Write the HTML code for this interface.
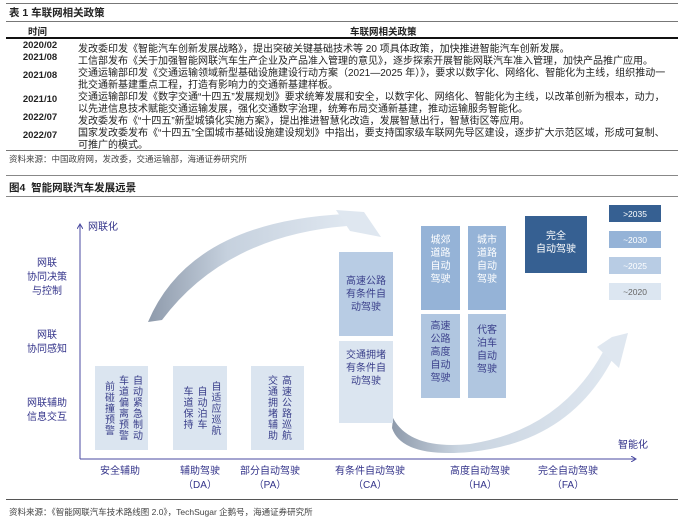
<!DOCTYPE html>
<html><head><meta charset="utf-8"><style>
*{margin:0;padding:0;box-sizing:border-box}
body{width:684px;height:519px;background:#fff;position:relative;overflow:hidden;font-family:"Liberation Sans","Noto Sans CJK SC",sans-serif;color:#222}
.a{position:absolute;white-space:nowrap}
.t{font-size:10px;left:78px}
.d{font-size:9.5px;font-weight:bold;left:14px;width:52px;text-align:center}
.hl{position:absolute;left:6px;width:672px}
.lab{color:#33338a;font-size:10px;text-align:center;line-height:14px}
.box{position:absolute;display:flex;align-items:center;justify-content:center;color:#3a3f8a;font-size:10px;line-height:13px;text-align:center}
.v{writing-mode:vertical-rl;letter-spacing:1px;line-height:14px}
.leg{position:absolute;left:609px;width:52px;height:17px;color:#fff;font-size:8.5px;display:flex;align-items:center;justify-content:center}
</style></head><body>
<div class="hl" style="top:3px;border-top:1px solid #777"></div>
<div class="a" style="left:9px;top:5px;font-size:10.5px;font-weight:bold">表 1 车联网相关政策</div>
<div class="hl" style="top:21px;border-top:1px solid #777"></div>
<div class="a" style="left:28px;top:24px;font-size:9.5px;font-weight:bold">时间</div>
<div class="a" style="left:350px;top:24px;font-size:9.5px;font-weight:bold">车联网相关政策</div>
<div class="hl" style="top:37px;border-top:2px solid #111"></div>
<div class="a d" style="top:40px">2020/02</div><div class="a t" style="top:40px">发改委印发《智能汽车创新发展战略》，提出突破关键基础技术等 20 项具体政策，加快推进智能汽车创新发展。</div>
<div class="a d" style="top:52px">2021/08</div><div class="a t" style="top:52px">工信部发布《关于加强智能网联汽车生产企业及产品准入管理的意见》，逐步探索开展智能网联汽车准入管理，加快产品推广应用。</div>
<div class="a d" style="top:70px">2021/08</div><div class="a t" style="top:64px">交通运输部印发《交通运输领域新型基础设施建设行动方案（2021—2025 年）》，要求以数字化、网络化、智能化为主线，组织推动一</div><div class="a t" style="top:76px">批交通新基建重点工程，打造有影响力的交通新基建样板。</div>
<div class="a d" style="top:94px">2021/10</div><div class="a t" style="top:88px">交通运输部印发《数字交通“十四五”发展规划》要求统筹发展和安全，以数字化、网络化、智能化为主线，以改革创新为根本，动力，</div><div class="a t" style="top:100px">以先进信息技术赋能交通运输发展，强化交通数字治理，统筹布局交通新基建，推动运输服务智能化。</div>
<div class="a d" style="top:112px">2022/07</div><div class="a t" style="top:112px">发改委发布《“十四五”新型城镇化实施方案》，提出推进智慧化改造，发展智慧出行，智慧街区等应用。</div>
<div class="a d" style="top:130px">2022/07</div><div class="a t" style="top:124px">国家发改委发布《“十四五”全国城市基础设施建设规划》中指出，要支持国家级车联网先导区建设，逐步扩大示范区域，形成可复制、</div><div class="a t" style="top:136px">可推广的模式。</div>
<div class="hl" style="top:150px;border-top:1px solid #777"></div>
<div class="a" style="left:9px;top:153px;font-size:8.5px;color:#444">资料来源：中国政府网，发改委，交通运输部，海通证券研究所</div>

<div class="hl" style="top:175px;border-top:1px solid #888"></div>
<div class="a" style="left:9px;top:180px;font-size:10.5px;font-weight:bold">图4 &nbsp;智能网联汽车发展远景</div>
<div class="hl" style="top:196px;border-top:1px solid #888"></div>

<svg class="a" style="left:0;top:0" width="684" height="519">
<defs>
<linearGradient id="g1" x1="0" x2="1" y1="0" y2="0"><stop offset="0" stop-color="#8e9aab"/><stop offset="0.4" stop-color="#c6d1de"/><stop offset="1" stop-color="#dfe7f0"/></linearGradient>
<linearGradient id="g2" x1="0" x2="1" y1="0" y2="0"><stop offset="0" stop-color="#8e9aab"/><stop offset="0.3" stop-color="#c9d4e0"/><stop offset="1" stop-color="#dfe7f0"/></linearGradient>
<marker id="ah" markerWidth="6" markerHeight="6" refX="5" refY="3" orient="auto"><path d="M0,0 L5,3 L0,6" fill="none" stroke="#4a4aa0" stroke-width="1"/></marker>
</defs>
<path d="M148,322 Q190,222 345,214 L347,226 Q225,236 162,320 Z" fill="url(#g1)"/>
<path d="M336,210 L364,212 L381,237 L350,231 Z" fill="#dfe7f0"/>
<path d="M393,418 Q410,450 470,444 Q560,430 603,352 L613,358 Q570,442 470,452 Q402,458 392,428 Z" fill="url(#g2)"/>
<path d="M597,347 L612,337 L628,333 L619,368 Z" fill="#dfe7f0"/>
<line x1="80" y1="459" x2="80" y2="224" stroke="#4a4aa0" stroke-width="1" marker-end="url(#ah)"/>
<line x1="80" y1="459" x2="636" y2="459" stroke="#4a4aa0" stroke-width="1" marker-end="url(#ah)"/>
</svg>
<div class="a lab" style="left:88px;top:221px">网联化</div>
<div class="a lab" style="left:618px;top:439px">智能化</div>
<div class="a lab" style="left:12px;top:257px;width:70px">网联<br>协同决策<br>与控制</div>
<div class="a lab" style="left:12px;top:329px;width:70px">网联<br>协同感知</div>
<div class="a lab" style="left:12px;top:397px;width:70px">网联辅助<br>信息交互</div>
<div class="a lab" style="left:80px;top:465px;width:80px">安全辅助</div>
<div class="a lab" style="left:160px;top:465px;width:80px">辅助驾驶<br>（DA）</div>
<div class="a lab" style="left:230px;top:465px;width:80px">部分自动驾驶<br>（PA）</div>
<div class="a lab" style="left:320px;top:465px;width:100px">有条件自动驾驶<br>（CA）</div>
<div class="a lab" style="left:430px;top:465px;width:100px">高度自动驾驶<br>（HA）</div>
<div class="a lab" style="left:518px;top:465px;width:100px">完全自动驾驶<br>（FA）</div>

<div class="box" style="left:95px;top:366px;width:53px;height:84px;background:#dbe5f0"><div class="v">自动紧急制动<br>车道偏离预警<br>前碰撞预警</div></div>
<div class="box" style="left:173px;top:366px;width:54px;height:84px;background:#dbe5f0"><div class="v">自适应巡航<br>自动泊车<br>车道保持</div></div>
<div class="box" style="left:251px;top:366px;width:53px;height:84px;background:#dbe5f0"><div class="v">高速公路巡航<br>交通拥堵辅助</div></div>
<div class="box" style="left:339px;top:252px;width:54px;height:84px;background:#b8cce4">高速公路<br>有条件自<br>动驾驶</div>
<div class="box" style="left:339px;top:341px;width:54px;height:82px;background:#dbe5f0;align-items:flex-start;padding-top:8px">交通拥堵<br>有条件自<br>动驾驶</div>
<div class="box" style="left:421px;top:226px;width:39px;height:84px;background:#95b3d7;color:#fff;align-items:flex-start;padding-top:8px">城郊<br>道路<br>自动<br>驾驶</div>
<div class="box" style="left:468px;top:226px;width:38px;height:84px;background:#95b3d7;color:#fff;align-items:flex-start;padding-top:8px">城市<br>道路<br>自动<br>驾驶</div>
<div class="box" style="left:421px;top:314px;width:39px;height:84px;background:#b0c6e0;align-items:flex-start;padding-top:6px">高速<br>公路<br>高度<br>自动<br>驾驶</div>
<div class="box" style="left:468px;top:314px;width:38px;height:84px;background:#b0c6e0;align-items:flex-start;padding-top:10px">代客<br>泊车<br>自动<br>驾驶</div>
<div class="box" style="left:525px;top:216px;width:62px;height:57px;background:#366092;color:#fff;align-items:flex-start;padding-top:14px">完全<br>自动驾驶</div>
<div class="leg" style="top:205px;background:#366092">&gt;2035</div>
<div class="leg" style="top:231px;background:#95b3d7">~2030</div>
<div class="leg" style="top:257px;background:#b8cce4">~2025</div>
<div class="leg" style="top:283px;background:#dce6f1;color:#666">~2020</div>

<div class="hl" style="top:499px;border-top:1px solid #555"></div>
<div class="a" style="left:9px;top:506px;font-size:8.5px;color:#444">资料来源：《智能网联汽车技术路线图 2.0》，TechSugar 企鹅号，海通证券研究所</div>
</body></html>
